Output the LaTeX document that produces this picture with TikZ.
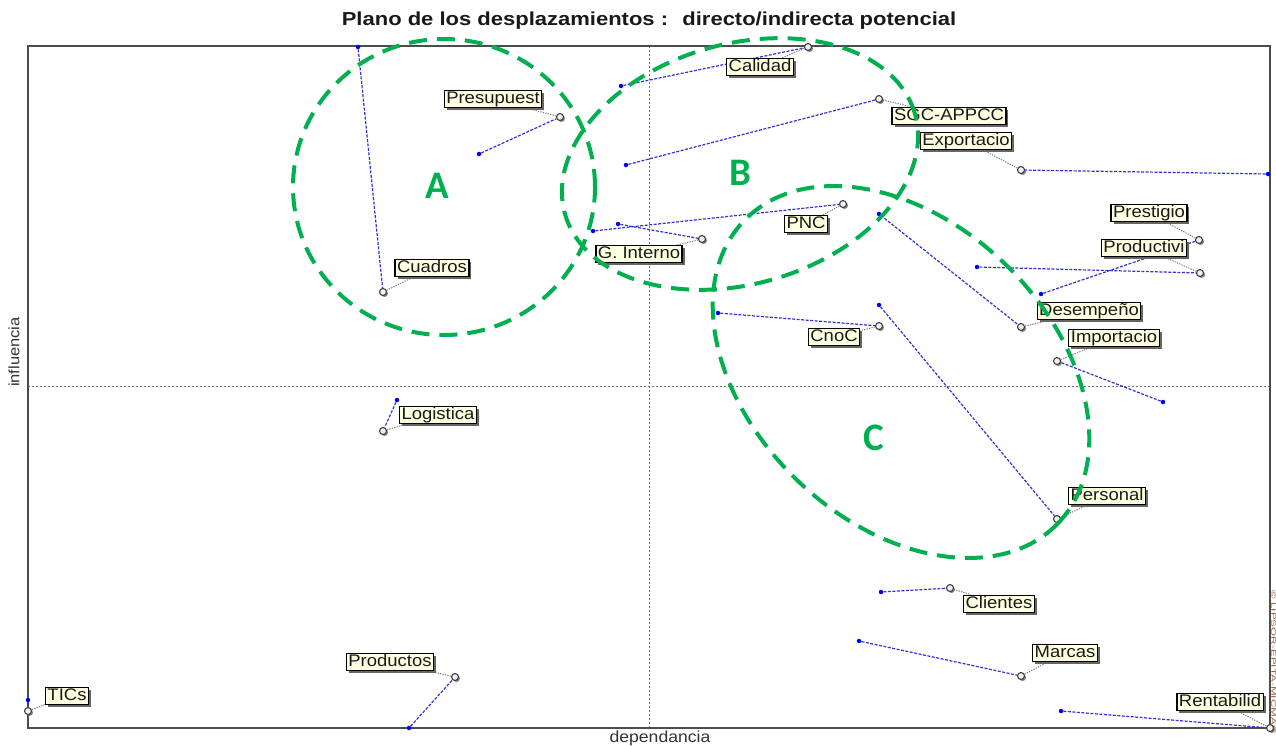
\documentclass[tikz,border=0pt]{standalone}
\usepackage{fontspec}
\setmainfont{Liberation Sans}
\newfontfamily\labfont[FakeStretch=1.1]{Liberation Sans}
\newfontfamily\ttlfont[FakeStretch=1.17]{Liberation Sans}
\newfontfamily\axfont[FakeStretch=1.1]{Liberation Sans}
\newfontfamily\wmfont[FakeStretch=1.8]{Liberation Sans}
\newfontfamily\grpfont{Carlito}
\usetikzlibrary{shadows}
\definecolor{grn}{RGB}{0,176,80}
\definecolor{ptblue}{RGB}{50,50,215}
\definecolor{lbfill}{RGB}{255,255,225}
\definecolor{wmk}{RGB}{160,90,50}
\pgfdeclarelayer{bg}
\pgfdeclarelayer{fg}
\pgfsetlayers{bg,main,fg}
\newcommand{\mvar}[5]{%
  \node[cpt] (c#1) at (#2) {};
  \node[bpt] (d#1) at (#3) {};
  \node[lbl] (l#1) at (#4) {#5};
  \begin{pgfonlayer}{bg}
    \draw[mv] (d#1) -- (c#1);
    \draw[lead] (c#1) -- (l#1);
  \end{pgfonlayer}}
\begin{document}
\begin{tikzpicture}[x=1pt,y=-1pt,
  lbl/.style={draw=black, line width=1.2pt, fill=lbfill, text=black!90,
    font=\labfont\fontsize{16.8}{18}\selectfont, inner xsep=2pt, inner ysep=0.4pt,
    text height=13pt, text depth=3.3pt,
    drop shadow={shadow xshift=2.5pt,shadow yshift=-2.5pt,fill=black!60,opacity=1}},
  cpt/.style={circle, draw=black!75, line width=1.1pt, fill=black!6, inner sep=0pt,
    minimum size=7pt,
    drop shadow={shadow xshift=1.5pt,shadow yshift=-1.5pt,fill=black!50,opacity=1}},
  bpt/.style={circle, fill=blue, inner sep=0pt, minimum size=4.5pt},
  mv/.style={ptblue, line width=1.2pt, dash pattern=on 3pt off 1.5pt},
  lead/.style={black!50, line width=1pt, dash pattern=on 1.3pt off 1.2pt},
  grp/.style={grn, line width=4pt, dash pattern=on 18pt off 10pt},
  grplbl/.style={grn, font=\grpfont\bfseries\fontsize{39}{40}\selectfont},
  axisl/.style={black!55, line width=0.6pt, dash pattern=on 2pt off 2pt},
]
\useasboundingbox (0,0) rectangle (1276,745);

\begin{pgfonlayer}{bg}
  \fill[white] (0,0) rectangle (1276,745);
  \draw[axisl] (649,46) -- (649,728);
  \draw[axisl] (28,386) -- (1270,386);
  \draw[black!70, line width=1.6pt] (28,46) rectangle (1270,728);
\end{pgfonlayer}

\node[font=\ttlfont\bfseries\fontsize{18.8}{20}\selectfont, text=black!90] (title) at (649,21) {Plano de los desplazamientos :~ directo/indirecta potencial};
\node[font=\axfont\fontsize{16}{17}\selectfont, text=black!80] (xlab) at (660,738) {dependancia};
\node[font=\axfont\fontsize{15}{16}\selectfont, text=black!80, rotate=90] (ylab) at (14,352) {influencia};
\node[font=\wmfont\fontsize{6.5}{7}\selectfont, text=wmk, rotate=-90, inner sep=0pt] (wm) at (1273.6,662) {© LIPSOR-EPITA-MICMAC};

\mvar{pres}{560,117}{479,154}{493,99}{Presupuest}
\mvar{cuad}{383,292}{358,47}{432,268}{Cuadros}
\mvar{cali}{808,47}{621,86}{760,67}{Calidad}
\mvar{sgc}{879,99}{626,165}{949,116}{SGC-APPCC}
\mvar{expo}{1021,170}{1268,174}{966,141}{Exportacio}
\mvar{pnc}{843,204}{593,231}{806,224}{PNC}
\mvar{gint}{702,239}{618,224}{639,254}{G. Interno}
\mvar{pres2}{1199,240}{1041,294}{1149,213}{Prestigio}
\mvar{prod}{1200,273}{977,267}{1144,248}{Productivi}
\mvar{dese}{1021,327}{879,214}{1089,311}{Desempeño}
\mvar{impo}{1057,361}{1163,402}{1114,338}{Importacio}
\mvar{cnoc}{879,326}{718,313}{834,337}{CnoC}
\mvar{pers}{1057,519}{879,305}{1107,496}{Personal}
\mvar{logi}{383,431}{397,400}{438,415}{Logistica}
\mvar{clie}{950,588}{881,592}{999,604}{Clientes}
\mvar{marc}{1021,676}{859,641}{1065,653}{Marcas}
\mvar{rent}{1270,728}{1061,711}{1220,702}{Rentabilid}
\mvar{prodt}{455,677}{409,728}{390,662}{Productos}
\mvar{tics}{28,711}{28,700}{67,696}{TICs}

\begin{pgfonlayer}{fg}
  \draw[grp] (444,187) ellipse [x radius=151pt, y radius=148pt];
  \draw[grp, rotate around={16:(740,164)}] (740,164) ellipse [x radius=182pt, y radius=120pt];
  \draw[grp, rotate around={-44:(901,372)}] (901,372) ellipse [x radius=218pt, y radius=150pt];
  \node[grplbl] (gA) at (437,186) {A};
  \node[grplbl] (gB) at (740,173) {B};
  \node[grplbl] (gC) at (874,438) {C};
\end{pgfonlayer}
\end{tikzpicture}
\end{document}
